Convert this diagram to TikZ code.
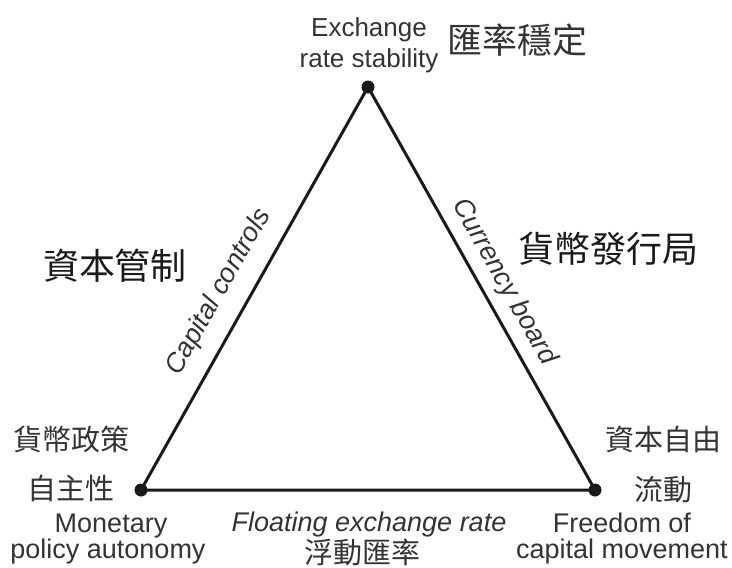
\documentclass[tikz,border=0pt]{standalone}
\usepackage{fontspec}
\setmainfont{Liberation Sans}
\newfontfamily\cjk{Noto Sans CJK TC}
\definecolor{txt}{HTML}{333333}
\definecolor{edge}{HTML}{1A1A1A}
\begin{document}
\begin{tikzpicture}[x=1pt,y=-1pt,
  en/.style={text=txt,font=\fontsize{27}{30}\selectfont,inner sep=0pt,anchor=base},
  entop/.style={en,font=\fontsize{26}{30}\selectfont},
  enit/.style={en,font=\fontsize{27}{30}\selectfont\itshape},
  slant/.style={text=txt,font=\fontsize{27}{30}\selectfont\itshape,inner sep=0pt},
  cjks/.style={text=txt,font=\cjk\fontsize{29}{32}\selectfont,inner sep=0pt},
  cjkb/.style={text=edge,font=\cjk\fontsize{36}{40}\selectfont,inner sep=0pt},
  vtx/.style={circle,fill=edge,minimum size=13pt,inner sep=0pt},
  side/.style={draw=edge,line width=3pt}]
\useasboundingbox (0,0) rectangle (732,568);
\node[vtx] (T) at (368,87) {};
\node[vtx] (L) at (141,490) {};
\node[vtx] (R) at (595,490) {};
\draw[side] (T.center) -- (L.center) -- (R.center) -- cycle;
% top
\node[entop] (t1) at (369,36) {Exchange};
\node[entop] (t2) at (369,67) {rate stability};
\node[cjks,font=\cjk\fontsize{35}{38}\selectfont] (t3) at (517,40) {匯率穩定};
% bottom left
\node[cjks] (l1) at (71,439) {貨幣政策};
\node[cjks] (l2) at (71,488) {自主性};
\node[en] (l3) at (111,532) {Monetary};
\node[en] (l4) at (108,558) {policy autonomy};
% bottom right
\node[cjks] (r1) at (663,439) {資本自由};
\node[cjks] (r2) at (663,490) {流動};
\node[en] (r3) at (622,532) {Freedom of};
\node[en] (r4) at (622,558) {capital movement};
% bottom edge
\node[enit] (b1) at (369,531) {Floating exchange rate};
\node[cjks] (b2) at (362,552) {浮動匯率};
% side labels
\node[cjkb] (s1) at (115,266) {資本管制};
\node[cjkb] (s2) at (608,249) {貨幣發行局};
\node[slant,rotate=60.6] (c1) at (219,292) {Capital controls};
\node[slant,rotate=-60.6] (c2) at (504,282) {Currency board};
\end{tikzpicture}
\end{document}
